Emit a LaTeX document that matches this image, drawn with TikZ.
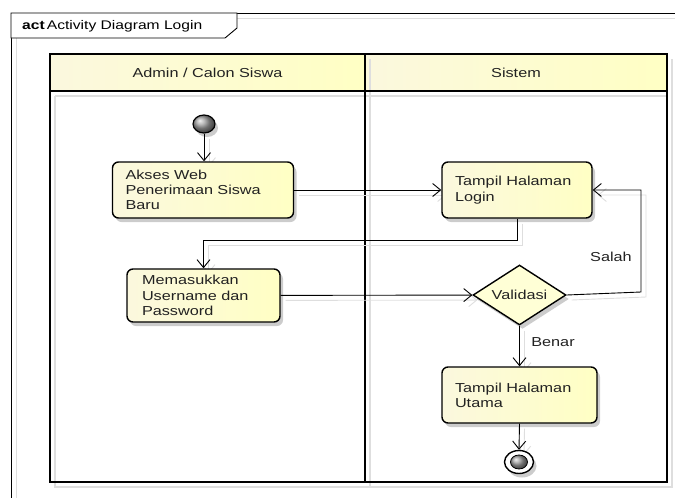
\documentclass[tikz,border=0pt]{standalone}
\usepackage{fontspec}
\setmainfont[FakeStretch=1.25]{Liberation Sans}
\usetikzlibrary{arrows.meta,shadows,shapes.geometric}

\definecolor{boxcream}{RGB}{251,248,222}
\definecolor{boxmid}{RGB}{255,255,236}
\definecolor{boxyellow}{RGB}{255,255,196}
\definecolor{shadegray}{RGB}{222,222,222}
\definecolor{inkgray}{RGB}{34,34,34}

\pgfdeclarelayer{lanes}
\pgfdeclarelayer{flowshadow}
\pgfsetlayers{lanes,flowshadow,main}

\tikzset{
  softshadow/.style={drop shadow={shadow xshift=3pt, shadow yshift=-4pt, opacity=.2, fill=black}},
  frameline/.style={draw=black, line width=0.9pt},
  frameshade/.style={draw=shadegray, line width=1pt},
  lanehead/.style={left color=boxcream, middle color=boxmid, right color=boxyellow},
  lane/.style={draw=black, line width=1.8pt},
  lanediv/.style={draw=black, line width=2.4pt},
  laneshade/.style={draw=shadegray, line width=2pt},
  lanetitle/.style={text=inkgray, font=\fontsize{13}{15}\selectfont},
  action/.style={draw=black, line width=1.4pt, rounded corners=6pt,
    left color=boxcream, middle color=boxmid, right color=boxyellow,
    inner xsep=13pt, inner ysep=0pt, align=left, minimum height=56pt,
    text=inkgray, font=\fontsize{13}{15.3}\selectfont, softshadow},
  decision/.style={diamond, aspect=1.6, draw=black, line width=1.4pt,
    fill=boxyellow!70!white, inner sep=0pt, minimum width=93pt, minimum height=60pt,
    text=inkgray, font=\fontsize{13}{15}\selectfont, softshadow},
  initial/.style={ellipse, draw=black, line width=1.2pt, minimum width=22pt,
    minimum height=18pt, inner sep=0pt, shading=ball, ball color=gray!75, softshadow},
  final/.style={ellipse, draw=black, line width=1.4pt, fill=white, minimum width=29pt,
    minimum height=23pt, inner sep=0pt, softshadow},
  finalcore/.style={ellipse, draw=black, line width=0.8pt, minimum width=17pt,
    minimum height=14pt, inner sep=0pt, shading=ball, ball color=gray!75},
  flow/.style={draw=black, line width=0.9pt,
    -{Straight Barb[length=8pt, width=13pt, line width=0.9pt]}},
  flowshade/.style={draw=shadegray, line width=0.9pt,
    -{Straight Barb[length=8pt, width=13pt, line width=0.9pt]}},
  guard/.style={text=inkgray, font=\fontsize{13}{15}\selectfont},
  tabtext/.style={font=\fontsize{12.5}{14}\selectfont, inner sep=0pt, anchor=west},
}

% all control flows of the activity, drawn with the style given
\newcommand\activityflows[1]{%
  \draw[#1] (start) -- (start |- akses.north);
  \draw[#1] (akses) -- (login);
  \draw[#1] (login.south) -- ++(0,22) -| (masuk.north);
  \draw[#1] (masuk) -- (valid);
  \draw[#1] (valid.east) -- (salahbend) |- (login.east);
  \draw[#1] (valid.south) -- (utama.north);
  \draw[#1] (utama.south) -- (end.north);
}

\begin{document}
\begin{tikzpicture}[x=1pt, y=-1pt]
\useasboundingbox (0,0) rectangle (675,498);

% diagram frame with its name tab
\draw[frameshade] (16,498) -- (16,18) -- (675,18);
\draw[frameline] (11,498) -- (11,13) -- (675,13);
\draw[frameline, fill=white] (11,13) -- (237,13) -- (237,28) -- (225,38) -- (11,38) -- cycle;
\node[tabtext] (tab) at (22,26) {\textbf{act}\,Activity Diagram Login};

% swimlanes
\begin{pgfonlayer}{lanes}
  \path[lanehead] (50,54) rectangle (365,91);
  \path[lanehead] (365,54) rectangle (667,91);
  \draw[laneshade] (55,96) -- (55,487) -- (672,487) -- (672,59);
  \draw[laneshade] (370,59) -- (370,487);
  \draw[laneshade] (55,96) -- (667,96);
  \draw[lane] (50,54) rectangle (667,482);
  \draw[lane] (50,91) -- (667,91);
  \draw[lanediv] (365,54) -- (365,482);
\end{pgfonlayer}
\node[lanetitle] (laneuser) at (207.5,72.5) {Admin / Calon Siswa};
\node[lanetitle] (lanesys) at (516,72.5) {Sistem};

% activity nodes
\node[initial] (start) at (204,124) {};
\node[action, text width=155pt] (akses) at (203,190) {Akses Web\\Penerimaan Siswa\\Baru};
\node[action, text width=124pt] (login) at (517,190) {Tampil Halaman\\Login};
\node[action, inner xsep=15pt, minimum height=53pt, text width=123pt] (masuk) at (203.5,295.5) {Memasukkan\\Username dan\\Password};
\node[decision] (valid) at (519.5,295) {Validasi};
\node[action, text width=129pt] (utama) at (519.5,395) {Tampil Halaman\\Utama};
\node[final] (end) at (519,462) {};
\node[finalcore] (endcore) at (end.center) {};
\coordinate (salahbend) at (641,292);

% control flows and their soft shadows
\begin{pgfonlayer}{flowshadow}
  \begin{scope}[transform canvas={shift={(5pt,-5pt)}}]
    \activityflows{flowshade}
  \end{scope}
\end{pgfonlayer}
\activityflows{flow}

% guards
\node[guard] (salah) at (611,257) {Salah};
\node[guard] (benar) at (553,342) {Benar};
\end{tikzpicture}
\end{document}
